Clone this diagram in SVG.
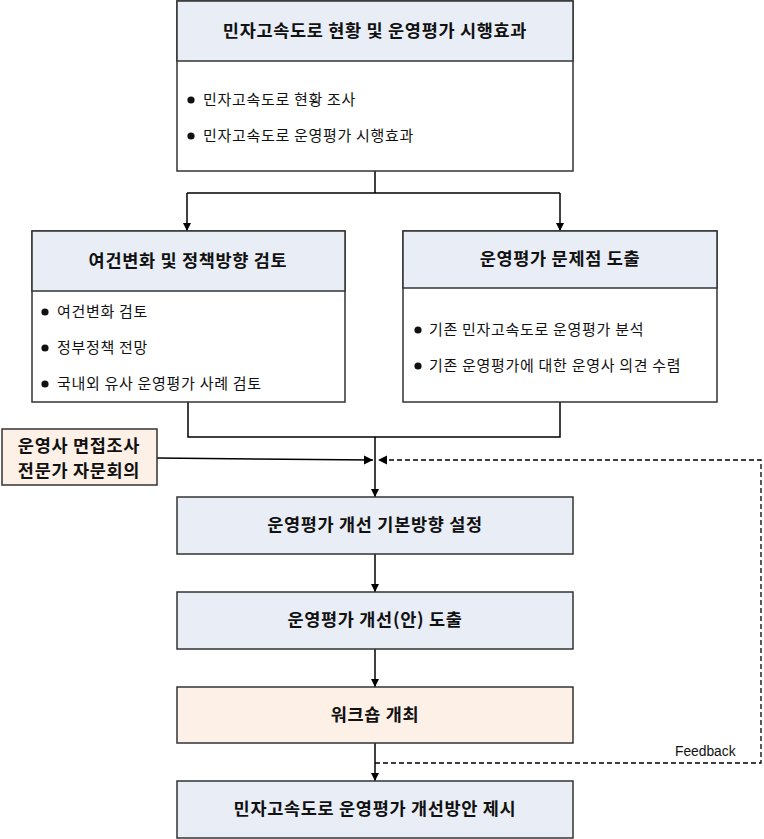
<svg xmlns="http://www.w3.org/2000/svg" width="764" height="839" viewBox="0 0 764 839">
<defs>
<marker id="arr" viewBox="0 0 10 10" refX="10" refY="5" markerWidth="8" markerHeight="8" markerUnits="userSpaceOnUse" orient="auto">
<path d="M0,0 L10,5 L0,10 z" fill="#000"/>
</marker>
<marker id="arrL" viewBox="0 0 10 10" refX="10" refY="5" markerWidth="9" markerHeight="11" markerUnits="userSpaceOnUse" orient="auto">
<path d="M0,0 L10,5 L0,10 z" fill="#000"/>
</marker>
</defs>
<style>
.box{fill:#fff;stroke:#333;stroke-width:1.5}
.hd{fill:#e8edf6;stroke:#333;stroke-width:1.5}
.pe{fill:#fdf0e6;stroke:#333;stroke-width:1.5}
.ht{font-family:"Noto Sans CJK KR","Noto Sans",sans-serif;font-weight:bold;font-size:17.5px;letter-spacing:0.7px;fill:#111;text-anchor:middle}
.bt{font-family:"Noto Sans CJK KR","Noto Sans",sans-serif;font-size:15px;letter-spacing:0.7px;fill:#111}
.fb{font-family:"Liberation Sans",Arial,sans-serif;font-size:13.8px;fill:#111}
.ln{fill:none;stroke:#000;stroke-width:1.5}
.ds{fill:none;stroke:#000;stroke-width:1.3;stroke-dasharray:5,3}
</style>
<g id="connectors">
<path class="ln" d="M375,171 V193 M187,193 H560"/>
<path class="ln" d="M187,193 V231" marker-end="url(#arr)"/>
<path class="ln" d="M560,193 V231" marker-end="url(#arr)"/>
<path class="ln" d="M188,402 V437 H560 V402"/>
<path class="ln" d="M375,437 V497" marker-end="url(#arr)"/>
<path class="ln" d="M157,458 L373,460" marker-end="url(#arrL)"/>
<path class="ds" d="M375,763 H761 V460 H378" marker-end="url(#arrL)"/>
<path class="ln" d="M375,554 V592" marker-end="url(#arr)"/>
<path class="ln" d="M375,649 V687" marker-end="url(#arr)"/>
<path class="ln" d="M375,743 V781" marker-end="url(#arr)"/>
<text class="fb" x="675" y="756">Feedback</text>
</g>
<g id="n1">
<rect class="box" x="177" y="1" width="396" height="170"/>
<rect class="hd" x="177" y="1" width="396" height="60"/>
<text class="ht" x="375" y="37">민자고속도로 현황 및 운영평가 시행효과</text>
<circle cx="191" cy="100" r="3.6" fill="#111"/>
<text class="bt" x="203" y="105">민자고속도로 현황 조사</text>
<circle cx="191" cy="136" r="3.6" fill="#111"/>
<text class="bt" x="203" y="141">민자고속도로 운영평가 시행효과</text>
</g>
<g id="n2">
<rect class="box" x="32" y="231" width="313" height="171"/>
<rect class="hd" x="32" y="231" width="313" height="60"/>
<text class="ht" x="188" y="267">여건변화 및 정책방향 검토</text>
<circle cx="45" cy="312" r="3.6" fill="#111"/>
<text class="bt" x="57" y="317">여건변화 검토</text>
<circle cx="45" cy="348" r="3.6" fill="#111"/>
<text class="bt" x="57" y="353">정부정책 전망</text>
<circle cx="45" cy="384" r="3.6" fill="#111"/>
<text class="bt" x="57" y="389">국내외 유사 운영평가 사례 검토</text>
</g>
<g id="n3">
<rect class="box" x="403" y="231" width="314" height="171"/>
<rect class="hd" x="403" y="231" width="314" height="57"/>
<text class="ht" x="560" y="265">운영평가 문제점 도출</text>
<circle cx="418" cy="330" r="3.6" fill="#111"/>
<text class="bt" x="429" y="335">기존 민자고속도로 운영평가 분석</text>
<circle cx="418" cy="366" r="3.6" fill="#111"/>
<text class="bt" x="429" y="371">기존 운영평가에 대한 운영사 의견 수렴</text>
</g>
<g id="n4">
<rect class="pe" x="2" y="429" width="155" height="56"/>
<text class="ht" x="79" y="452">운영사 면접조사</text>
<text class="ht" x="79" y="477">전문가 자문회의</text>
</g>
<g id="n5">
<rect class="hd" x="177" y="497" width="396" height="57"/>
<text class="ht" x="375" y="531">운영평가 개선 기본방향 설정</text>
</g>
<g id="n6">
<rect class="hd" x="177" y="592" width="396" height="57"/>
<text class="ht" x="375" y="626">운영평가 개선(안) 도출</text>
</g>
<g id="n7">
<rect class="pe" x="177" y="687" width="396" height="56"/>
<text class="ht" x="375" y="721">워크숍 개최</text>
</g>
<g id="n8">
<rect class="hd" x="177" y="781" width="396" height="57"/>
<text class="ht" x="375" y="815">민자고속도로 운영평가 개선방안 제시</text>
</g>
</svg>
